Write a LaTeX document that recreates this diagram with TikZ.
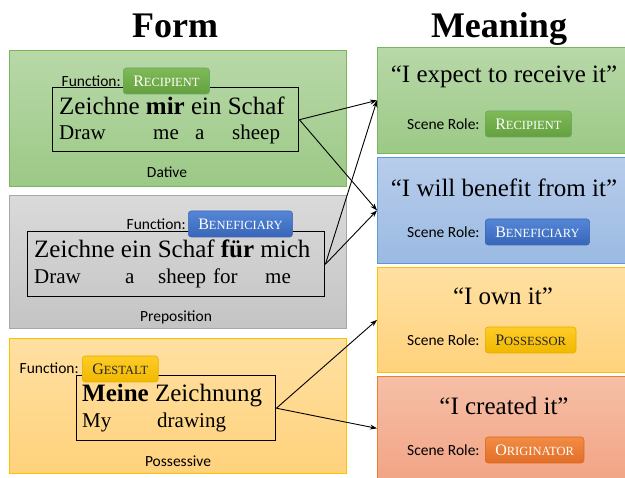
\documentclass[tikz,border=0pt]{standalone}
\usepackage{fontspec}
\setmainfont{Liberation Serif}
\newfontfamily\calibri{Carlito}
\usepackage{xcolor}
\usepackage{tikz}
\usetikzlibrary{arrows.meta,positioning,shapes}

\definecolor{grnTop}{RGB}{184,216,168}
\definecolor{grnBot}{RGB}{156,201,134}
\definecolor{grnEdge}{RGB}{122,180,92}
\definecolor{gryTop}{RGB}{218,218,218}
\definecolor{gryBot}{RGB}{196,196,196}
\definecolor{gryEdge}{RGB}{168,168,168}
\definecolor{ylwTop}{RGB}{255,224,162}
\definecolor{ylwBot}{RGB}{255,210,124}
\definecolor{ylwEdge}{RGB}{255,192,0}
\definecolor{bluTop}{RGB}{184,205,235}
\definecolor{bluBot}{RGB}{154,186,226}
\definecolor{bluEdge}{RGB}{91,155,213}
\definecolor{redTop}{RGB}{246,191,166}
\definecolor{redBot}{RGB}{242,164,134}
\definecolor{redEdge}{RGB}{237,125,49}

\newcommand\fakesc[2]{{\fontsize{16}{16}\selectfont #1}{\fontsize{12.5}{13}\selectfont #2}}

\begin{document}
\begin{tikzpicture}[x=1pt, y=-1pt,
    panel/.style={draw, line width=0.8pt, anchor=north west, inner sep=0pt},
    sent/.style={draw, line width=1.4pt, anchor=north west, inner sep=0pt},
    txt/.style={inner sep=0pt, font=\fontsize{25}{25}\selectfont},
    gl/.style={inner sep=0pt, anchor=base west, font=\fontsize{21}{22}\selectfont},
    lbl/.style={inner sep=0pt, font=\calibri\fontsize{15.5}{16}\selectfont},
    tag/.style={draw, rounded corners=3pt, line width=0.6pt, anchor=west, inner xsep=10pt, inner ysep=0pt, minimum height=26pt},
    arr/.style={-{Stealth[length=7pt,width=5pt]}, line width=0.9pt}
  ]
    \useasboundingbox (0,0) rectangle (625,478);

    % titles
    \node[inner sep=0pt, anchor=base, font=\bfseries\fontsize{36}{36}\selectfont] (form) at (175,38) {Form};
    \node[inner sep=0pt, anchor=base, font=\bfseries\fontsize{36}{36}\selectfont] (mean) at (499,38) {Meaning};

    % form side
    \node[panel, draw=grnEdge, top color=grnTop, bottom color=grnBot, minimum width=337pt, minimum height=136pt] (dat) at (9,50) {};
    \node[panel, draw=gryEdge, top color=gryTop, bottom color=gryBot, minimum width=337pt, minimum height=133pt] (prep) at (9,195) {};
    \node[panel, draw=ylwEdge, top color=ylwTop, bottom color=ylwBot, minimum width=337pt, minimum height=135pt] (poss) at (9,338) {};

    \node[sent, minimum width=246pt, minimum height=64pt] (s1) at (52,87) {};
    \node[sent, minimum width=297pt, minimum height=65pt] (s2) at (27,231) {};
    \node[sent, minimum width=199pt, minimum height=65pt] (s3) at (76,375) {};

    \node[txt, anchor=base west] (z1) at (59,115) {Zeichne \textbf{mir} ein Schaf};
    \foreach \w/\x in {Draw/59, me/153, a/195, sheep/232}
      \node[gl] (ga\x) at (\x,140) {\w};
    \node[txt, anchor=base west] (z2) at (34,258) {Zeichne ein Schaf \textbf{für} mich};
    \foreach \w/\x in {Draw/34, a/125, sheep/158, for/213, me/265}
      \node[gl] (gb\x) at (\x,284) {\w};
    \node[txt, anchor=base west] (z3) at (82,402) {\textbf{Meine} Zeichnung};
    \foreach \w/\x in {My/82, drawing/157}
      \node[gl] (gc\x) at (\x,428) {\w};

    \node[lbl, anchor=east] (f1) at (121,81) {Function:};
    \node[tag, draw=green!45!black!60, top color={rgb,255:red,128;green,186;blue,88}, bottom color={rgb,255:red,100;green,160;blue,62}, text=white] (t1) at (123,81) {\fakesc{R}{ECIPIENT}};
    \node[lbl, anchor=east] (f2) at (186,224) {Function:};
    \node[tag, draw={rgb,255:red,60;green,100;blue,180}, top color={rgb,255:red,84;green,134;blue,214}, bottom color={rgb,255:red,56;green,102;blue,186}, text=white] (t2) at (188,224) {\fakesc{B}{ENEFICIARY}};
    \node[lbl, anchor=east] (f3) at (79,368) {Function:};
    \node[tag, draw={rgb,255:red,230;green,175;blue,0}, top color={rgb,255:red,255;green,204;blue,40}, bottom color={rgb,255:red,240;green,184;blue,0}, text=black!85] (t3) at (82,369) {\fakesc{G}{ESTALT}};

    \node[lbl] (l1) at (167,172) {Dative};
    \node[lbl] (l2) at (176,317) {Preposition};
    \node[lbl] (l3) at (178,461) {Possessive};

    % meaning side
    \node[panel, draw=grnEdge, top color=grnTop, bottom color=grnBot, minimum width=260pt, minimum height=106pt] (rcp) at (377,47) {};
    \node[panel, draw=bluEdge, top color=bluTop, bottom color=bluBot, minimum width=260pt, minimum height=106pt] (ben) at (377,157) {};
    \node[panel, draw=ylwEdge, top color=ylwTop, bottom color=ylwBot, minimum width=260pt, minimum height=105pt] (own) at (377,267) {};
    \node[panel, draw=redEdge, top color=redTop, bottom color=redBot, minimum width=260pt, minimum height=104pt] (org) at (377,376) {};

    \node[txt, anchor=base] (q1) at (504,83) {“I expect to receive it”};
    \node[txt, anchor=base] (q2) at (504,197) {“I will benefit from it”};
    \node[txt, anchor=base] (q3) at (503,305) {“I own it”};
    \node[txt, anchor=base] (q4) at (504,415) {“I created it”};

    \node[lbl, anchor=west] (r1) at (407,124) {Scene Role:};
    \node[tag, draw=green!45!black!60, top color={rgb,255:red,128;green,186;blue,88}, bottom color={rgb,255:red,100;green,160;blue,62}, text=white] (u1) at (485,124) {\fakesc{R}{ECIPIENT}};
    \node[lbl, anchor=west] (r2) at (407,232) {Scene Role:};
    \node[tag, draw={rgb,255:red,60;green,100;blue,180}, top color={rgb,255:red,84;green,134;blue,214}, bottom color={rgb,255:red,56;green,102;blue,186}, text=white] (u2) at (485,232) {\fakesc{B}{ENEFICIARY}};
    \node[lbl, anchor=west] (r3) at (407,340) {Scene Role:};
    \node[tag, draw={rgb,255:red,230;green,175;blue,0}, top color={rgb,255:red,255;green,204;blue,40}, bottom color={rgb,255:red,240;green,184;blue,0}, text=black!85] (u3) at (485,340) {\fakesc{P}{OSSESSOR}};
    \node[lbl, anchor=west] (r4) at (407,450) {Scene Role:};
    \node[tag, draw={rgb,255:red,220;green,105;blue,30}, top color={rgb,255:red,242;green,140;blue,70}, bottom color={rgb,255:red,226;green,110;blue,38}, text=white] (u4) at (485,450) {\fakesc{O}{RIGINATOR}};

    % form -> meaning
    \draw[arr] (s1.east) -- (rcp.west);
    \draw[arr] (s1.east) -- (ben.west);
    \draw[arr] (s2.east) -- (rcp.west);
    \draw[arr] (s2.east) -- (ben.west);
    \draw[arr] (s3.east) -- (own.west);
    \draw[arr] (s3.east) -- (org.west);
  \end{tikzpicture}
\end{document}
